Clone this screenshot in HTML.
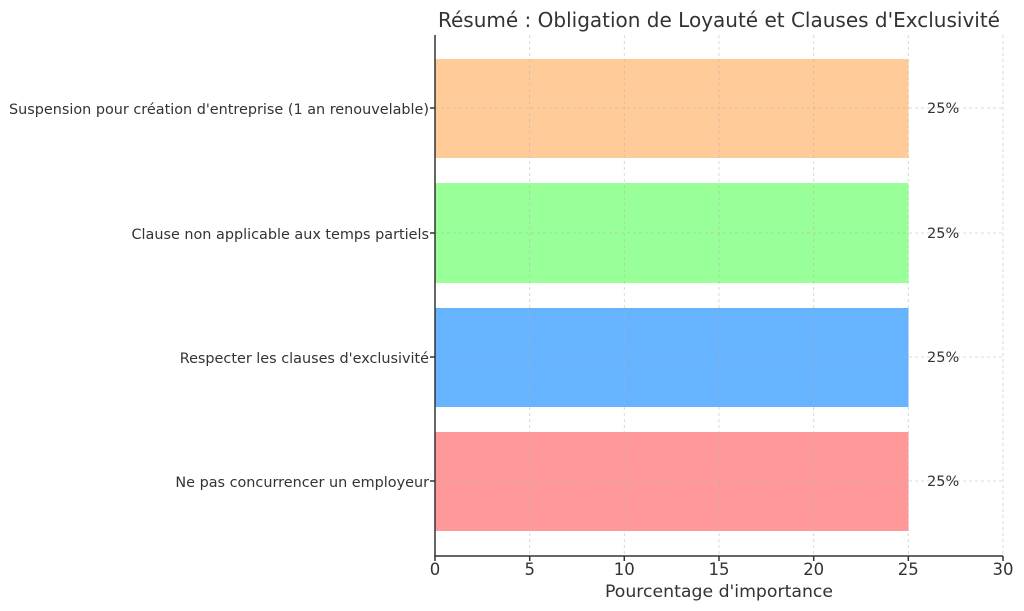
<!DOCTYPE html>
<html><head><meta charset="utf-8"><style>body{margin:0;background:#fff}svg{display:block}</style></head><body>
<svg width="1024" height="611" xmlns="http://www.w3.org/2000/svg" font-family="DejaVu Sans, Liberation Sans, sans-serif" fill="#333">
<text x="719" y="27" font-size="20" text-anchor="middle">Résumé : Obligation de Loyauté et Clauses d'Exclusivité</text>
<rect x="435" y="59" width="473.5" height="99" fill="#ffcc99"/>
<rect x="435" y="183" width="473.5" height="100" fill="#99ff99"/>
<rect x="435" y="308" width="473.5" height="99" fill="#66b3ff"/>
<rect x="435" y="432" width="473.5" height="99" fill="#ff9999"/>
<g stroke="#b0b0b0" stroke-opacity="0.6" stroke-width="0.8" stroke-dasharray="3,3">
<line x1="529.7" y1="35" x2="529.7" y2="556"/><line x1="624.3" y1="35" x2="624.3" y2="556"/><line x1="719" y1="35" x2="719" y2="556"/><line x1="813.7" y1="35" x2="813.7" y2="556"/><line x1="908.3" y1="35" x2="908.3" y2="556"/><line x1="1003" y1="35" x2="1003" y2="556"/>
<line x1="435" y1="108" x2="1003" y2="108"/><line x1="435" y1="233" x2="1003" y2="233"/><line x1="435" y1="357" x2="1003" y2="357"/><line x1="435" y1="481" x2="1003" y2="481"/>
</g>
<g stroke="#333" stroke-width="1.5"><line x1="435" y1="35" x2="435" y2="556"/><line x1="434.3" y1="556" x2="1003" y2="556"/>
<line x1="430" y1="108" x2="435" y2="108"/><line x1="430" y1="233" x2="435" y2="233"/><line x1="430" y1="357" x2="435" y2="357"/><line x1="430" y1="481" x2="435" y2="481"/>
<line x1="435" y1="556" x2="435" y2="561"/><line x1="529.7" y1="556" x2="529.7" y2="561"/><line x1="624.3" y1="556" x2="624.3" y2="561"/><line x1="719" y1="556" x2="719" y2="561"/><line x1="813.7" y1="556" x2="813.7" y2="561"/><line x1="908.3" y1="556" x2="908.3" y2="561"/><line x1="1003" y1="556" x2="1003" y2="561"/></g>
<g font-size="14.4" text-anchor="end">
<text x="429" y="114">Suspension pour création d'entreprise (1 an renouvelable)</text>
<text x="429" y="239">Clause non applicable aux temps partiels</text>
<text x="429" y="363">Respecter les clauses d'exclusivité</text>
<text x="429" y="487">Ne pas concurrencer un employeur</text></g>
<g font-size="14.5"><text x="927" y="113">25%</text><text x="927" y="238">25%</text><text x="927" y="362">25%</text><text x="927" y="486">25%</text></g>
<g font-size="16.5" text-anchor="middle"><text x="435" y="575">0</text><text x="529.7" y="575">5</text><text x="624.3" y="575">10</text><text x="719" y="575">15</text><text x="813.7" y="575">20</text><text x="908.3" y="575">25</text><text x="1003" y="575">30</text></g>
<text x="719" y="597" font-size="17.3" text-anchor="middle">Pourcentage d'importance</text>
</svg></body></html>
